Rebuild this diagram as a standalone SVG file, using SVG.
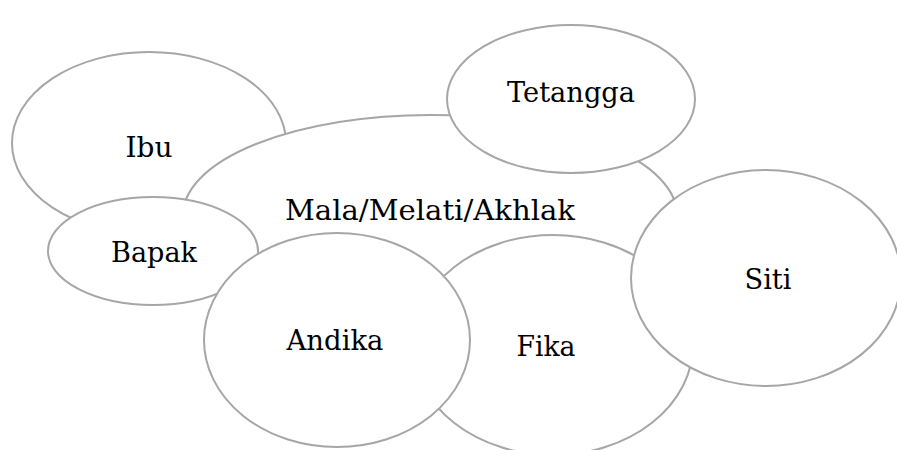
<svg xmlns="http://www.w3.org/2000/svg" width="897" height="450" viewBox="0 0 897 450">
<style>
.n{fill:#fff;stroke:#a6a6a6;stroke-width:2}
.t{font-family:"DejaVu Serif","Liberation Serif",serif;font-size:28px;fill:#000;text-anchor:middle}
</style>
<rect width="897" height="450" fill="#fff"/>
<g id="ibu"><ellipse class="n" cx="149" cy="143" rx="137" ry="91"/><text class="t" x="149" y="157" textLength="47" lengthAdjust="spacingAndGlyphs">Ibu</text></g>
<g id="mala"><ellipse class="n" cx="430" cy="215" rx="247" ry="100"/><text class="t" x="430" y="220" textLength="290" lengthAdjust="spacingAndGlyphs">Mala/Melati/Akhlak</text></g>
<g id="tetangga"><ellipse class="n" cx="571" cy="99" rx="124" ry="74"/><text class="t" x="571" y="102" textLength="128" lengthAdjust="spacingAndGlyphs">Tetangga</text></g>
<g id="bapak"><ellipse class="n" cx="153" cy="251" rx="105" ry="54"/><text class="t" x="154" y="262" textLength="86" lengthAdjust="spacingAndGlyphs">Bapak</text></g>
<g id="fika"><ellipse class="n" cx="553" cy="345" rx="140" ry="110"/><text class="t" x="546" y="356" textLength="59" lengthAdjust="spacingAndGlyphs">Fika</text></g>
<g id="andika"><ellipse class="n" cx="337" cy="340" rx="133" ry="107"/><text class="t" x="335" y="350" textLength="97" lengthAdjust="spacingAndGlyphs">Andika</text></g>
<g id="siti"><ellipse class="n" cx="766" cy="278" rx="135" ry="108"/><text class="t" x="768" y="289" textLength="47" lengthAdjust="spacingAndGlyphs">Siti</text></g>
<g id="connectors"/>
</svg>
